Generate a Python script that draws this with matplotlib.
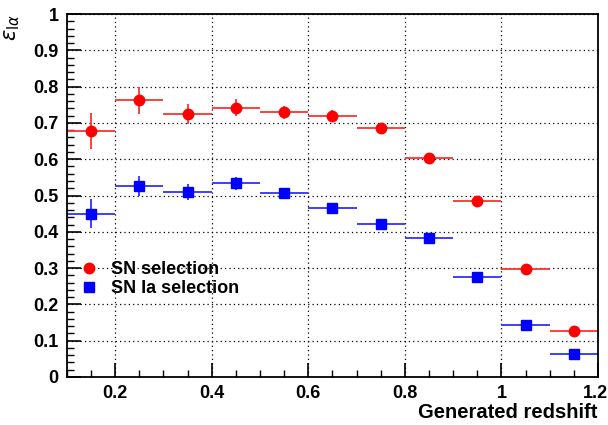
import matplotlib
matplotlib.use("Agg")
import matplotlib.pyplot as plt
import matplotlib.transforms as mtransforms
from matplotlib.ticker import MultipleLocator
from matplotlib.lines import Line2D

plt.rcParams['font.family'] = ['Liberation Sans', 'DejaVu Sans']

z_centers = [0.15, 0.25, 0.35, 0.45, 0.55, 0.65, 0.75, 0.85, 0.95, 1.05, 1.15]
z_halfwidth = [0.05] * 11
sn_eff = [0.678, 0.762, 0.725, 0.742, 0.729, 0.719, 0.687, 0.602, 0.485, 0.297, 0.128]
sn_err = [0.050, 0.038, 0.028, 0.024, 0.018, 0.016, 0.012, 0.008, 0.007, 0.006, 0.004]
snia_eff = [0.450, 0.526, 0.509, 0.534, 0.507, 0.465, 0.422, 0.382, 0.275, 0.143, 0.062]
snia_err = [0.040, 0.028, 0.022, 0.018, 0.014, 0.011, 0.009, 0.007, 0.006, 0.005, 0.004]
labels = ['SN selection', 'SN Ia selection']

fig = plt.figure(figsize=(6.08, 4.25), dpi=100)
ax = fig.add_axes([0.110, 0.113, 0.8736, 0.854])

ax.errorbar(z_centers, sn_eff, xerr=z_halfwidth, yerr=sn_err, fmt='o', color='#ff0000',
            ecolor='#ff3030', elinewidth=1.3, markersize=7.5, capsize=0)
ax.errorbar(z_centers, snia_eff, xerr=z_halfwidth, yerr=snia_err, fmt='s', color='#0000ff',
            ecolor='#3030ff', elinewidth=1.3, markersize=7, capsize=0)

ax.set_xlim(0.1, 1.2)
ax.set_ylim(0, 1)
ax.xaxis.set_minor_locator(MultipleLocator(0.05))
ax.yaxis.set_minor_locator(MultipleLocator(0.02))
ax.set_xticks([0.2, 0.4, 0.6, 0.8, 1.0, 1.2])
ax.set_xticklabels(['0.2', '0.4', '0.6', '0.8', '1', '1.2'])
ax.set_yticks([0, 0.1, 0.2, 0.3, 0.4, 0.5, 0.6, 0.7, 0.8, 0.9, 1.0])
ax.set_yticklabels(['0', '0.1', '0.2', '0.3', '0.4', '0.5', '0.6', '0.7', '0.8', '0.9', '1'])

ax.tick_params(which='both', direction='in', top=False, right=False)
ax.tick_params(which='major', length=10, width=1.2, labelsize=13, pad=6)
ax.tick_params(which='minor', length=5, width=1.0)
for lab in ax.get_xticklabels() + ax.get_yticklabels():
    lab.set_fontweight('bold')
last = ax.get_xticklabels()[-1]
last.set_transform(last.get_transform() + mtransforms.ScaledTranslation(-3 / 100, 0, fig.dpi_scale_trans))
for s in ax.spines.values():
    s.set_linewidth(1.3)

ax.grid(True, which='major', linestyle=(0, (1, 2.5)), color='black', linewidth=0.9)
ax.set_axisbelow(True)

fig.text(0.983, 0.008, 'Generated redshift', fontsize=14.5, fontweight='bold',
         ha='right', va='bottom')
ax.set_ylabel(r'$\varepsilon_{\mathrm{I}\alpha}$', fontsize=15, loc='top', labelpad=8)

handles = [Line2D([], [], marker='o', color='#ff0000', linestyle='none', markersize=7.5),
           Line2D([], [], marker='s', color='#0000ff', linestyle='none', markersize=7)]
ax.legend(handles, labels, loc='upper left', bbox_to_anchor=(-0.006, 0.364), frameon=False,
          prop={'weight': 'bold', 'size': 13}, handlelength=1.0,
          handletextpad=0.7, labelspacing=0.12)

fig.savefig('out.png', dpi=100)
